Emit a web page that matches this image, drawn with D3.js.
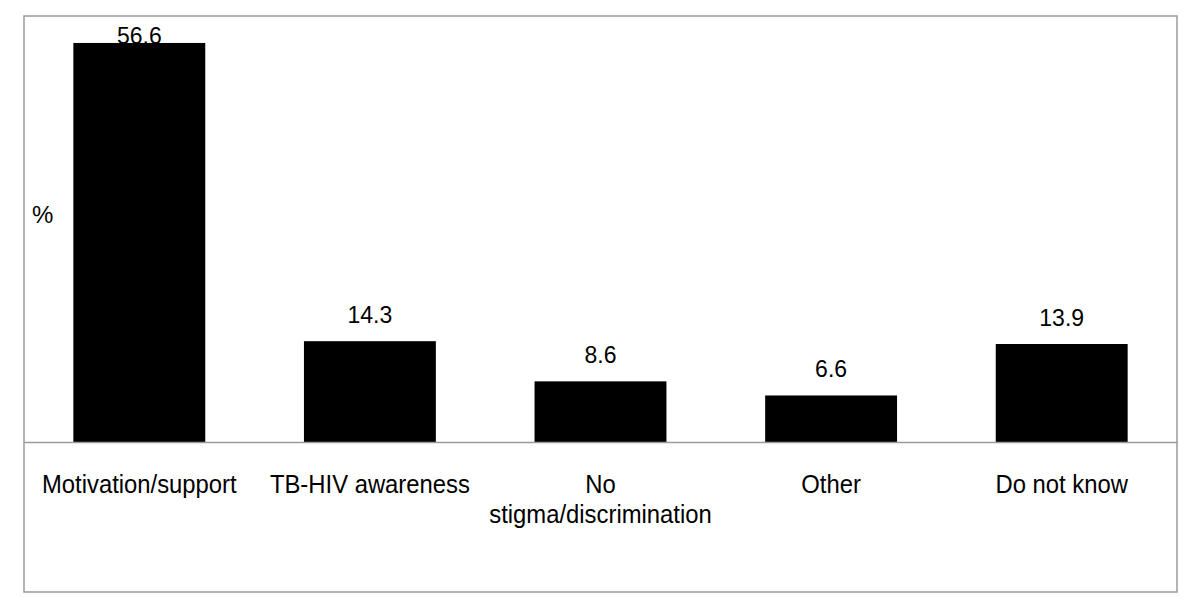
<!DOCTYPE html>
<html>
<head>
<meta charset="utf-8">
<script src="https://cdn.jsdelivr.net/npm/d3@7"></script>
<style>
  html, body { margin: 0; padding: 0; background: #fff; }
  svg { display: block; font-family: "Liberation Sans", Arial, sans-serif; }
</style>
</head>
<body>
<svg id="chart" width="1200" height="607"></svg>
<script>
const categories = ["Motivation/support", "TB-HIV awareness", "No stigma/discrimination", "Other", "Do not know"];
const categoryLines = [["Motivation/support"], ["TB-HIV awareness"], ["No", "stigma/discrimination"], ["Other"], ["Do not know"]];
const values = [56.6, 14.3, 8.6, 6.6, 13.9];
const yAxisLabel = "%";

const svg = d3.select("#chart");
const frame = { left: 24, top: 16, right: 1177, bottom: 592 };
const baseY = 442;

const x = d3.scaleBand().domain(categories).range([frame.left, frame.right]).paddingInner(0.428).paddingOuter(0.214);
const y = d3.scaleLinear().domain([0, 60]).range([baseY, baseY - 60 * 7.05]);

// outer frame
svg.append("rect")
  .attr("x", frame.left).attr("y", frame.top)
  .attr("width", frame.right - frame.left).attr("height", frame.bottom - frame.top)
  .attr("fill", "none").attr("stroke", "#9a9a9a").attr("stroke-width", 1.5);

// value labels (drawn before bars, bars overlap when clamped)
svg.append("g").selectAll("text").data(values).join("text")
  .attr("x", (d, i) => x(categories[i]) + x.bandwidth() / 2)
  .attr("y", d => Math.max(y(d) - 18, 44))
  .attr("text-anchor", "middle")
  .attr("font-size", 23)
  .attr("fill", "#000")
  .text(d => d.toFixed(1));

// bars
svg.append("g").selectAll("rect").data(values).join("rect")
  .attr("x", (d, i) => x(categories[i]))
  .attr("y", d => y(d))
  .attr("width", x.bandwidth())
  .attr("height", d => y(0) - y(d))
  .attr("fill", "#000");

// baseline axis
const axis = d3.axisBottom(x).tickSize(0).tickFormat("");
const gAxis = svg.append("g").attr("transform", `translate(0,${baseY})`).call(axis);
gAxis.select(".domain").attr("stroke", "#9a9a9a").attr("stroke-width", 1.5);

// category labels
const labelG = svg.append("g");
categories.forEach((c, i) => {
  const cx = x(c) + x.bandwidth() / 2;
  categoryLines[i].forEach((line, j) => {
    labelG.append("text")
      .attr("transform", `translate(${cx},${493 + j * 30}) scale(0.9,1)`)
      .attr("text-anchor", "middle")
      .attr("font-size", 26.5)
      .attr("fill", "#000")
      .text(line);
  });
});

// y label
svg.append("text")
  .attr("x", 32).attr("y", 223)
  .attr("font-size", 24)
  .attr("fill", "#000")
  .text(yAxisLabel);
</script>
</body>
</html>
